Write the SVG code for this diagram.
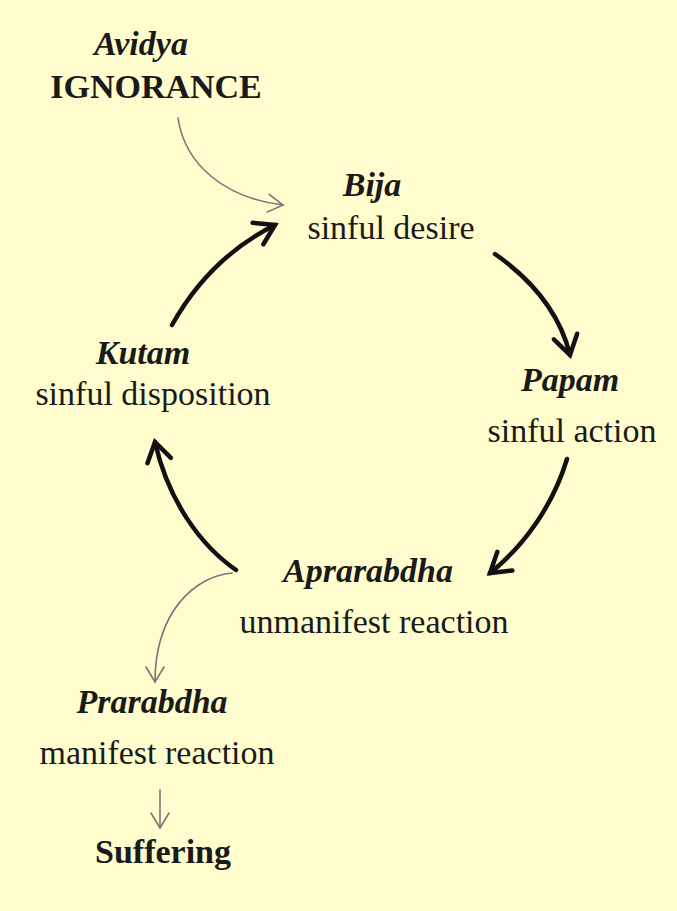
<svg xmlns="http://www.w3.org/2000/svg" width="677" height="911" viewBox="0 0 677 911">
<style>
.t{font-family:"Liberation Serif","Times New Roman",serif;font-size:34px;fill:#1a1a1a;text-anchor:middle}
.i{font-style:italic;font-weight:bold}
.b{font-weight:bold}
.thick{fill:none;stroke:#111;stroke-width:4.5;stroke-linecap:round}
.thin{fill:none;stroke:#777;stroke-width:1.6;stroke-linecap:round}
</style>
<defs>
<marker id="ah" markerUnits="userSpaceOnUse" viewBox="-24 -16 28 32" markerWidth="28" markerHeight="32" refX="0" refY="0" orient="auto" overflow="visible">
<path d="M-19,-12 L0,0 L-19,12" fill="none" stroke="#111" stroke-width="4.5" stroke-linecap="round" stroke-linejoin="miter"/>
</marker>
<marker id="ahs" markerUnits="userSpaceOnUse" viewBox="-20 -12 24 24" markerWidth="24" markerHeight="24" refX="0" refY="0" orient="auto" overflow="visible">
<path d="M-15,-9 L0,0 L-15,9" fill="none" stroke="#777" stroke-width="1.6" stroke-linecap="round"/>
</marker>
</defs>
<rect x="0" y="0" width="677" height="911" fill="#FFFDCD"/>
<g id="connectors">
<path class="thin" d="M178,118 C185,165 225,198 283,205" marker-end="url(#ahs)"/>
<path class="thick" d="M172,325 C200,275 235,245 275,225" marker-end="url(#ah)"/>
<path class="thick" d="M495,254 C532,280 560,314 570,355" marker-end="url(#ah)"/>
<path class="thick" d="M567,459 C553,505 525,545 490,573" marker-end="url(#ah)"/>
<path class="thick" d="M236,570 C200,545 168,500 155,442" marker-end="url(#ah)"/>
<path class="thin" d="M232,573 C195,576 155,612 155,682" marker-end="url(#ahs)"/>
<path class="thin" d="M160,790 L160,828" marker-end="url(#ahs)"/>
</g>
<g id="avidya">
<text class="t i" x="141" y="55">Avidya</text>
<text class="t b" x="156" y="98">IGNORANCE</text>
</g>
<g id="bija">
<text class="t i" x="372" y="196">Bija</text>
<text class="t" x="391" y="239">sinful desire</text>
</g>
<g id="kutam">
<text class="t i" x="143" y="364">Kutam</text>
<text class="t" x="153" y="405">sinful disposition</text>
</g>
<g id="papam">
<text class="t i" x="570" y="391">Papam</text>
<text class="t" x="572" y="442">sinful action</text>
</g>
<g id="aprarabdha">
<text class="t i" x="368" y="582">Aprarabdha</text>
<text class="t" x="374" y="633">unmanifest reaction</text>
</g>
<g id="prarabdha">
<text class="t i" x="152" y="713">Prarabdha</text>
<text class="t" x="157" y="764">manifest reaction</text>
</g>
<g id="suffering">
<text class="t b" x="163" y="863">Suffering</text>
</g>
</svg>
